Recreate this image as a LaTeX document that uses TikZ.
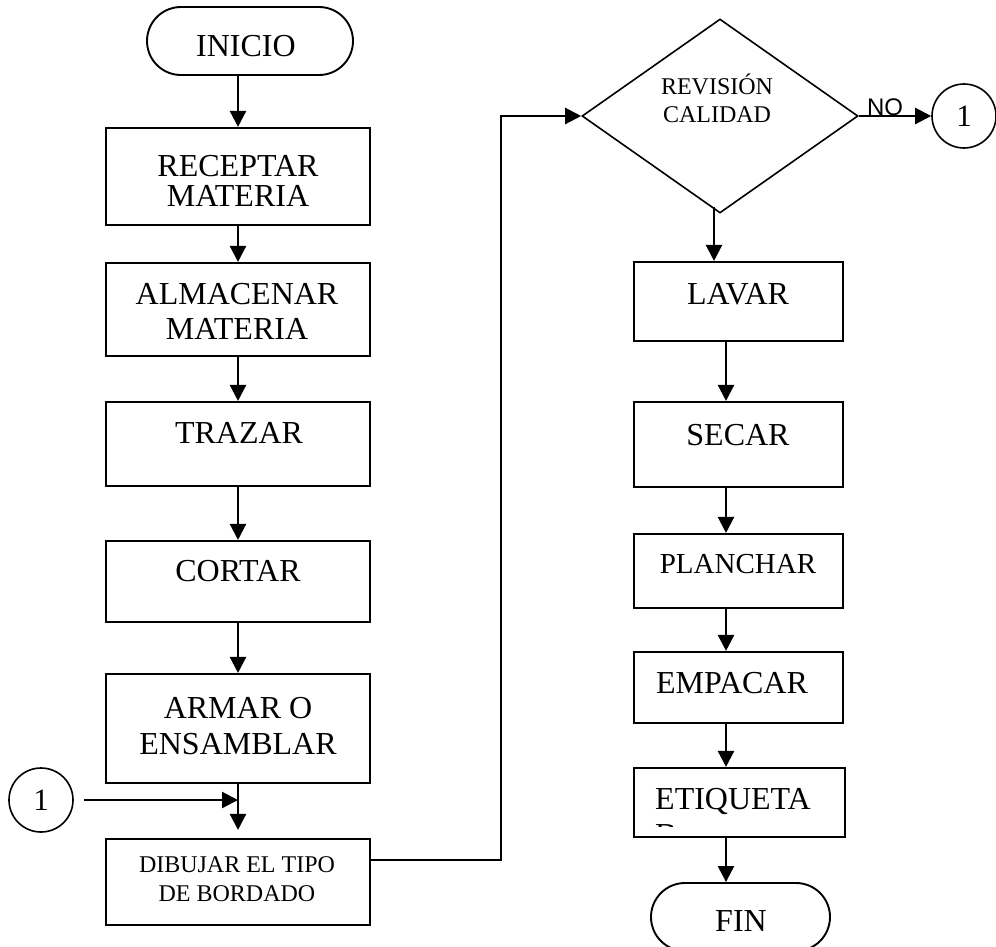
\documentclass[tikz,border=0pt]{standalone}
\usepackage{fontspec}
\setmainfont{Liberation Serif}
\newfontfamily\labelsans{Liberation Sans}
\usetikzlibrary{arrows.meta,shapes.geometric}

\begin{document}
\begin{tikzpicture}[x=1pt,y=-1pt,
  box/.style={draw, line width=2.1pt, rectangle, inner sep=0pt},
  term/.style={draw, line width=1.9pt, rectangle, rounded corners=34pt, inner sep=0pt, minimum height=68pt},
  conn/.style={draw, line width=1.6pt, circle, inner sep=0pt, minimum size=64pt, font=\fontsize{31}{31}\selectfont},
  lbl/.style={inner sep=0pt, align=center, anchor=north, font=\fontsize{32}{#1}\selectfont},
  lbl/.default=30,
  smalltxt/.style={inner sep=0pt, align=center, anchor=north, font=\fontsize{24}{#1}\selectfont},
  smalltxt/.default=28,
  flow/.style={line width=2.3pt, -{Triangle[length=16pt,width=16pt]}},
  link/.style={line width=2.3pt}
]
\useasboundingbox (0,0) rectangle (996,946);
\clip (0,0) rectangle (996,946);
\fill[white] (0,0) rectangle (996,946);

% ---- left column ----
\node[term, minimum width=206pt] (ini) at (250,41) {};
\node[lbl] (iniT) at (246,35) {INICIO};

\node[box, minimum width=264pt, minimum height=97pt]  (rec) at (238,176.5) {};
\node[lbl=30] (recT) at (238,155) {RECEPTAR\\MATERIA};

\node[box, minimum width=264pt, minimum height=93pt]  (alm) at (238,309.5) {};
\node[lbl=35] (almT) at (237,283) {ALMACENAR\\MATERIA};

\node[box, minimum width=264pt, minimum height=84pt]  (tra) at (238,444) {};
\node[lbl] (traT) at (239,422) {TRAZAR};

\node[box, minimum width=264pt, minimum height=81pt]  (cor) at (238,581.5) {};
\node[lbl] (corT) at (238,560) {CORTAR};

\node[box, minimum width=264pt, minimum height=109pt] (arm) at (238,728.5) {};
\node[lbl=36] (armT) at (238,697) {ARMAR O\\ENSAMBLAR};

\node[box, minimum width=264pt, minimum height=86pt]  (dib) at (238,882) {};
\node[smalltxt=29] (dibT) at (237,856) {DIBUJAR EL TIPO\\DE BORDADO};

\node[conn] (c1L) at (41,800) {1};

% ---- decision ----
\node[draw, diamond, line width=1.6pt, inner sep=0pt,
      minimum width=276pt, minimum height=194pt] (dia) at (720,116) {};
\node[smalltxt=28] (revT) at (717,74) {REVISIÓN\\CALIDAD};
\node[conn] (c1R) at (964,116) {1};
\node[inner sep=0pt, anchor=base, font=\labelsans\fontsize{24}{24}\selectfont] (no) at (885,115) {NO};

% ---- right column ----
\node[box, minimum width=209pt, minimum height=79pt] (lav) at (738.5,301.5) {};
\node[lbl] (lavT) at (738,283) {LAVAR};

\node[box, minimum width=209pt, minimum height=85pt] (sec) at (738.5,444.5) {};
\node[lbl] (secT) at (738,424) {SECAR};

\node[box, minimum width=209pt, minimum height=74pt] (pla) at (738.5,571) {};
\node[inner sep=0pt, anchor=north, font=\fontsize{29}{29}\selectfont] (plaT) at (738,554) {PLANCHAR};

\node[box, minimum width=209pt, minimum height=71pt] (emp) at (738.5,687.5) {};
\node[lbl] (empT) at (732,672) {EMPACAR};

\node[box, minimum width=211pt, minimum height=69pt] (eti) at (739.5,802.5) {};
\node[lbl] (etiT) at (733,788) {ETIQUETA};
% second line of the label, cut off by the box's text area
\begin{scope}
  \clip (650,820) rectangle (672,826.5);
  \node[lbl, anchor=north west] (etiX) at (655,824) {D};
\end{scope}

\node[term, minimum width=179pt] (fin) at (740.5,917) {};
\node[lbl] (finT) at (741,910) {FIN};

% ---- connectors ----
\coordinate (lc) at (238,0);
\coordinate (rc) at (726,0);
\draw[flow] (ini.south -| lc) -- (rec.north);
\draw[flow] (rec.south) -- (alm.north);
\draw[flow] (alm.south) -- (tra.north);
\draw[flow] (tra.south) -- (cor.north);
\draw[flow] (cor.south) -- (arm.north);
\draw[flow] (arm.south) -- ([yshift=8pt]dib.north);
\draw[flow] ([xshift=10pt]c1L.east) -- (c1L.east -| lc);

\draw[flow] ([yshift=22pt]dib.east) -- ++(130,0) |- (dia.west);
\draw[flow] (dia.east) -- (c1R.west);

\coordinate (dd) at (714,207);
\draw[flow] (dd) -- (dd |- lav.north);
\draw[flow] (lav.south -| rc) -- (sec.north -| rc);
\draw[flow] (sec.south -| rc) -- (pla.north -| rc);
\draw[flow] (pla.south -| rc) -- (emp.north -| rc);
\draw[flow] (emp.south -| rc) -- (eti.north -| rc);
\draw[flow] (eti.south -| rc) -- (fin.north -| rc);
\end{tikzpicture}
\end{document}
